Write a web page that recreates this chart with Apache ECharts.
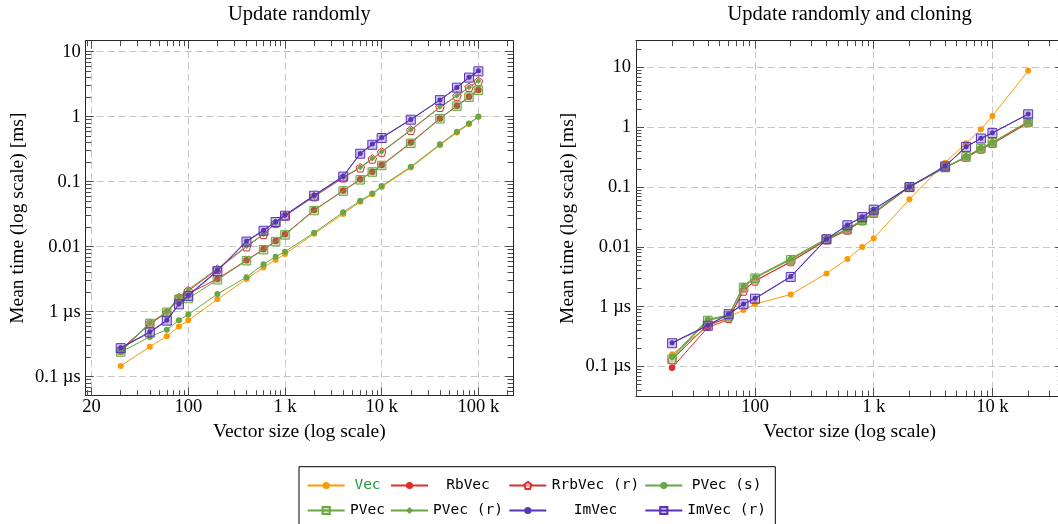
<!DOCTYPE html>
<html><head><meta charset="utf-8">
<script src="https://cdn.jsdelivr.net/npm/echarts@6/dist/echarts.min.js"></script>
<style>html,body{margin:0;padding:0;background:#fff}#c{width:1058px;height:524px}</style>
</head><body><div id="c"></div>
<script>
// ---------- data (mean time in ms) ----------
const seriesNames = ['Vec','RbVec','RrbVec (r)','PVec (s)','PVec','PVec (r)','ImVec','ImVec (r)'];

const sizesL = [20,40,60,80,100,200,400,600,800,1000,2000,4000,6000,8000,10000,20000,40000,60000,80000,100000];
const vecL  = [1.46e-4,2.9e-4,4.2e-4,5.9e-4,7.4e-4,1.55e-3,3.2e-3,4.8e-3,6.3e-3,7.7e-3,0.0158,0.032,0.049,0.064,0.083,0.165,0.365,0.57,0.77,0.99];
const rbL   = [2.6e-4,6.4e-4,9.8e-4,1.6e-3,1.9e-3,3.2e-3,6.2e-3,9.2e-3,0.0122,0.0155,0.0367,0.073,0.109,0.143,0.181,0.40,0.94,1.48,2.03,2.57];
const rrbL  = [2.6e-4,6.6e-4,9.6e-4,1.65e-3,2.1e-3,4.5e-3,0.0100,0.0155,0.0229,0.030,0.059,0.115,0.164,0.224,0.286,0.62,1.40,2.08,2.83,3.5];
const pvsL  = [2.4e-4,4.1e-4,5.3e-4,7.4e-4,9.1e-4,1.87e-3,3.4e-3,5.4e-3,7.0e-3,8.4e-3,0.0164,0.034,0.051,0.066,0.086,0.17,0.376,0.59,0.79,1.01];
const pvL   = [2.4e-4,6.6e-4,9.8e-4,1.55e-3,1.6e-3,3.1e-3,6.1e-3,9.0e-3,0.012,0.0152,0.036,0.072,0.107,0.141,0.178,0.39,0.93,1.46,2.0,2.55];
const pvrL  = [2.5e-4,6.7e-4,1.0e-3,1.7e-3,2.2e-3,4.6e-3,0.0102,0.0157,0.0232,0.0305,0.060,0.117,0.167,0.228,0.29,0.63,1.42,2.1,2.85,3.55];
const imL   = [2.8e-4,4.9e-4,7.4e-4,1.32e-3,1.8e-3,4.3e-3,0.0123,0.018,0.0243,0.0307,0.062,0.122,0.273,0.38,0.48,0.91,1.81,2.83,4.04,5.1];
const imrL  = [2.75e-4,4.8e-4,7.3e-4,1.3e-3,1.75e-3,4.2e-3,0.012,0.0176,0.024,0.030,0.061,0.12,0.27,0.37,0.47,0.9,1.8,2.8,4.0,5.0];

const sizesR = [20,40,60,80,100,200,400,600,800,1000,2000,4000,6000,8000,10000,20000];
const vecR  = [1.6e-4,4.7e-4,6.8e-4,8.8e-4,1.11e-3,1.6e-3,3.6e-3,6.3e-3,0.0100,0.0139,0.0625,0.256,0.54,0.93,1.55,8.8];
const rbR   = [9.5e-5,4.5e-4,6.1e-4,1.9e-3,2.7e-3,5.6e-3,0.0130,0.0190,0.027,0.036,0.100,0.215,0.31,0.43,0.53,1.18];
const rrbR  = [1.3e-4,5.0e-4,6.4e-4,1.83e-3,2.7e-3,5.7e-3,0.0132,0.0192,0.0275,0.0365,0.101,0.215,0.315,0.435,0.54,1.2];
const pvsR  = [1.46e-4,6.2e-4,7.2e-4,2.24e-3,3.1e-3,6.3e-3,0.0136,0.0197,0.028,0.0373,0.102,0.21,0.32,0.445,0.55,1.24];
const pvR   = [1.32e-4,5.9e-4,7.0e-4,2.1e-3,3.0e-3,6.1e-3,0.0134,0.0195,0.0278,0.037,0.101,0.212,0.32,0.44,0.55,1.23];
const pvrR  = [1.4e-4,6.0e-4,7.2e-4,2.2e-3,3.1e-3,6.4e-3,0.0138,0.020,0.0285,0.038,0.103,0.214,0.325,0.45,0.56,1.25];
const imR   = [2.5e-4,4.9e-4,7.6e-4,1.11e-3,1.38e-3,3.2e-3,0.0136,0.0232,0.032,0.0426,0.1016,0.225,0.474,0.655,0.81,1.67];
const imrR  = [2.45e-4,4.8e-4,7.5e-4,1.1e-3,1.36e-3,3.15e-3,0.0134,0.023,0.0315,0.042,0.10,0.222,0.47,0.65,0.8,1.65];

// tick labels
const xTicksL = [10,100,1000,10000,100000];
const xTickLabelsL = ['20','100','1 k','10 k','100 k'];
const xTicksR = [10,100,1000,10000];
const xTickLabelsR = ['','100','1 k','10 k'];
const yTicks = [1e-4,1e-3,0.01,0.1,1,10];
const yTickLabels = ['0.1 µs','1 µs','0.01','0.1','1','10'];

const titles = ['Update randomly','Update randomly and cloning'];
const xTitle = 'Vector size (log scale)';
const yTitle = 'Mean time (log scale) [ms]';

// legend grid (row, column) for each series name
const legendRow1 = ['Vec','RbVec','RrbVec (r)','PVec (s)'];
const legendRow2 = ['PVec','PVec (r)','ImVec','ImVec (r)'];

// ---------- styling ----------
const ORANGE='#fb9a07', RED='#dc2f2f', GREEN='#6ba544', PURPLE='#5a34b8';
const PENT='path://M0,-1 L0.951,-0.309 L0.588,0.809 L-0.588,0.809 L-0.951,-0.309 Z';
const styles = [
  {c:ORANGE, s:'circle', z:6, f:ORANGE, bw:0},
  {c:RED, s:'circle', z:6.5, f:RED, bw:0},
  {c:RED, s:PENT, z:8.5, f:'rgba(255,235,235,0.55)', bw:1},
  {c:GREEN, s:'circle', z:6, f:GREEN, bw:0},
  {c:GREEN, s:'rect', z:8.5, f:'rgba(107,165,68,0.3)', bw:1},
  {c:GREEN, s:'diamond', z:6, f:GREEN, bw:0},
  {c:PURPLE, s:'circle', z:5, f:PURPLE, bw:0},
  {c:PURPLE, s:'rect', z:9, f:'rgba(90,52,184,0.3)', bw:1},
];
const SERIF = 'Liberation Serif';
const FS_TITLE = 20.5, FS_NAME = 19.5, FS_TICK = 18.5;
const lg = Math.log10;

const rangeXL = [0.939, 5.358], rangeYL = [-4.292, 1.170];
const rangeXR = [0.9975, 4.597], rangeYR = [-4.493, 1.448];

function minorVals(r){
  const out=[];
  for(let k=Math.floor(r[0]);k<=Math.ceil(r[1]);k++){
    for(let m=2;m<=9;m++){const v=k+lg(m); if(v>r[0]&&v<r[1]) out.push(v);}
  }
  return out;
}
function labelFn(ticks, labels){
  return v => { for(let i=0;i<ticks.length;i++){ if(Math.abs(lg(ticks[i])-v)<1e-6) return labels[i]; } return ''; };
}
const AXLINE = {show:true, onZero:false, lineStyle:{color:'#262626', width:1}};
const NOLINE = {show:false, onZero:false};
const TICKCOL = '#4a4a4a';

function makeAxes(gi, xr, yr, xt, xl, title){
  const xMaj = xt.map(lg), yMaj = yTicks.map(lg);
  const xMin = minorVals(xr), yMin = minorVals(yr);
  const xs = [
    {type:'value', gridIndex:gi, position:'bottom', min:xr[0], max:xr[1],
     axisLine:AXLINE,
     axisTick:{show:true, inside:true, length:8, customValues:xMaj, lineStyle:{color:TICKCOL}},
     axisLabel:{show:true, customValues:xMaj, formatter:labelFn(xt,xl), margin:2, fontFamily:SERIF, fontSize:FS_TICK, color:'#000'},
     splitLine:{show:true, lineStyle:{color:'#c6c6c6', width:1, type:[7,4]}},
     name:xTitle, nameLocation:'middle', nameGap:24, nameTextStyle:{fontFamily:SERIF, fontSize:FS_NAME, color:'#000'}},
    {type:'value', gridIndex:gi, position:'bottom', min:xr[0], max:xr[1], axisLine:NOLINE,
     axisTick:{show:true, inside:true, length:5.5, customValues:xMin, lineStyle:{color:TICKCOL}},
     axisLabel:{show:false}, splitLine:{show:false}},
    {type:'value', gridIndex:gi, position:'top', min:xr[0], max:xr[1], axisLine:AXLINE,
     axisTick:{show:true, inside:true, length:8, customValues:xMaj, lineStyle:{color:TICKCOL}},
     axisLabel:{show:false}, splitLine:{show:false},
     name:title, nameLocation:'middle', nameGap:16, nameTextStyle:{fontFamily:SERIF, fontSize:FS_TITLE, color:'#000'}},
    {type:'value', gridIndex:gi, position:'top', min:xr[0], max:xr[1], axisLine:NOLINE,
     axisTick:{show:true, inside:true, length:5.5, customValues:xMin, lineStyle:{color:TICKCOL}},
     axisLabel:{show:false}, splitLine:{show:false}},
  ];
  const yl = labelFn(yTicks, yTickLabels);
  const ys = [
    {type:'value', gridIndex:gi, position:'left', min:yr[0], max:yr[1], axisLine:AXLINE,
     axisTick:{show:true, inside:true, length:8, customValues:yMaj, lineStyle:{color:TICKCOL}},
     axisLabel:{show:true, customValues:yMaj, formatter:yl, margin:5, fontFamily:SERIF, fontSize:FS_TICK, color:'#000'},
     splitLine:{show:true, lineStyle:{color:'#c6c6c6', width:1, type:[7,4]}},
     name:yTitle, nameLocation:'middle', nameGap:58, nameTextStyle:{fontFamily:SERIF, fontSize:FS_NAME, color:'#000'}},
    {type:'value', gridIndex:gi, position:'left', min:yr[0], max:yr[1], axisLine:NOLINE,
     axisTick:{show:true, inside:true, length:5.5, customValues:yMin, lineStyle:{color:TICKCOL}},
     axisLabel:{show:false}, splitLine:{show:false}},
    {type:'value', gridIndex:gi, position:'right', min:yr[0], max:yr[1], axisLine:AXLINE,
     axisTick:{show:true, inside:true, length:8, customValues:yMaj, lineStyle:{color:TICKCOL}},
     axisLabel:{show:false}, splitLine:{show:false}},
    {type:'value', gridIndex:gi, position:'right', min:yr[0], max:yr[1], axisLine:NOLINE,
     axisTick:{show:true, inside:true, length:5.5, customValues:yMin, lineStyle:{color:TICKCOL}},
     axisLabel:{show:false}, splitLine:{show:false}},
  ];
  return {xs, ys};
}

const A0 = makeAxes(0, rangeXL, rangeYL, xTicksL, xTickLabelsL, titles[0]);
const A1 = makeAxes(1, rangeXR, rangeYR, xTicksR, xTickLabelsR, titles[1]);

const dataL = [vecL, rbL, rrbL, pvsL, pvL, pvrL, imL, imrL];
const dataR = [vecR, rbR, rrbR, pvsR, pvR, pvrR, imR, imrR];

function mkSeries(gi, sizes, vals, i){
  const st = styles[i];
  return {
    type:'line', name:seriesNames[i], xAxisIndex:gi*4, yAxisIndex:gi*4,
    data: sizes.map((s,k)=>[lg(s), lg(vals[k])]),
    symbol:st.s, symbolSize:st.z, showSymbol:true, animation:false, silent:true,
    lineStyle:{color:st.c, width:1},
    itemStyle:{color:st.f, borderColor:st.c, borderWidth:st.bw},
    emphasis:{disabled:true}, z:2+i*0.1
  };
}
const series = [];
dataL.forEach((v,i)=>series.push(mkSeries(0,sizesL,v,i)));
dataR.forEach((v,i)=>series.push(mkSeries(1,sizesR,v,i)));

// ---------- legend layout: one legend component per entry ----------
const MONO = 'DejaVu Sans Mono', MONO_FS = 14.5;
const CHAR_W = 0.602 * MONO_FS;
const colIconX = [306.7, 390, 508.3, 644.3];   // line-sample start of each column
const colTextC = [366.5, 467, 594.5, 725.6];   // centre of the text cell of each column
const rowTop = [478, 503];
function textPad(name, col){
  const tw = name.length * CHAR_W;
  return Math.max(0, colTextC[col] - tw/2 - (colIconX[col] + 42));
}
function legendFor(name, row, col){
  const pad = textPad(name, col);
  const rich = {t:{padding:[0,0,0,pad], fontFamily:MONO, fontSize:MONO_FS, color: name==='Vec' ? '#23973a' : '#000'}};
  return {orient:'horizontal', left:colIconX[col], top:rowTop[row], padding:0,
    itemGap:0, itemWidth:37, itemHeight:9, selectedMode:false, borderWidth:0,
    data:[name], formatter: n => '{t|' + n + '}',
    textStyle:{fontFamily:MONO, fontSize:MONO_FS, color:'#000', rich}};
}
const legends = [];
legendRow1.forEach((n,c)=>legends.push(legendFor(n,0,c)));
legendRow2.forEach((n,c)=>legends.push(legendFor(n,1,c)));
// framed box: first entry carries the border, padded out to the frame size
const firstW = 42 + textPad(legendRow1[0],0) + legendRow1[0].length*CHAR_W;
legends[0].left = 299; legends[0].top = 466.7;
legends[0].padding = [11.3, 774.3 - 306.7 - firstW, 32, 7.7];
legends[0].borderColor = '#000'; legends[0].borderWidth = 1; legends[0].borderRadius = 0;

const option = {
  backgroundColor:'#fff',
  animation:false,
  grid:[
    {left:85.7, top:40.7, width:427.3, height:355, outerBoundsMode:'none', containLabel:false},
    {left:636, top:40.7, width:427.3, height:355.3, outerBoundsMode:'none', containLabel:false}
  ],
  xAxis:[...A0.xs, ...A1.xs],
  yAxis:[...A0.ys, ...A1.ys],
  legend: legends,
  series
};
const chart = echarts.init(document.getElementById('c'), null, {renderer:'canvas'});
chart.setOption(option);
</script></body></html>
